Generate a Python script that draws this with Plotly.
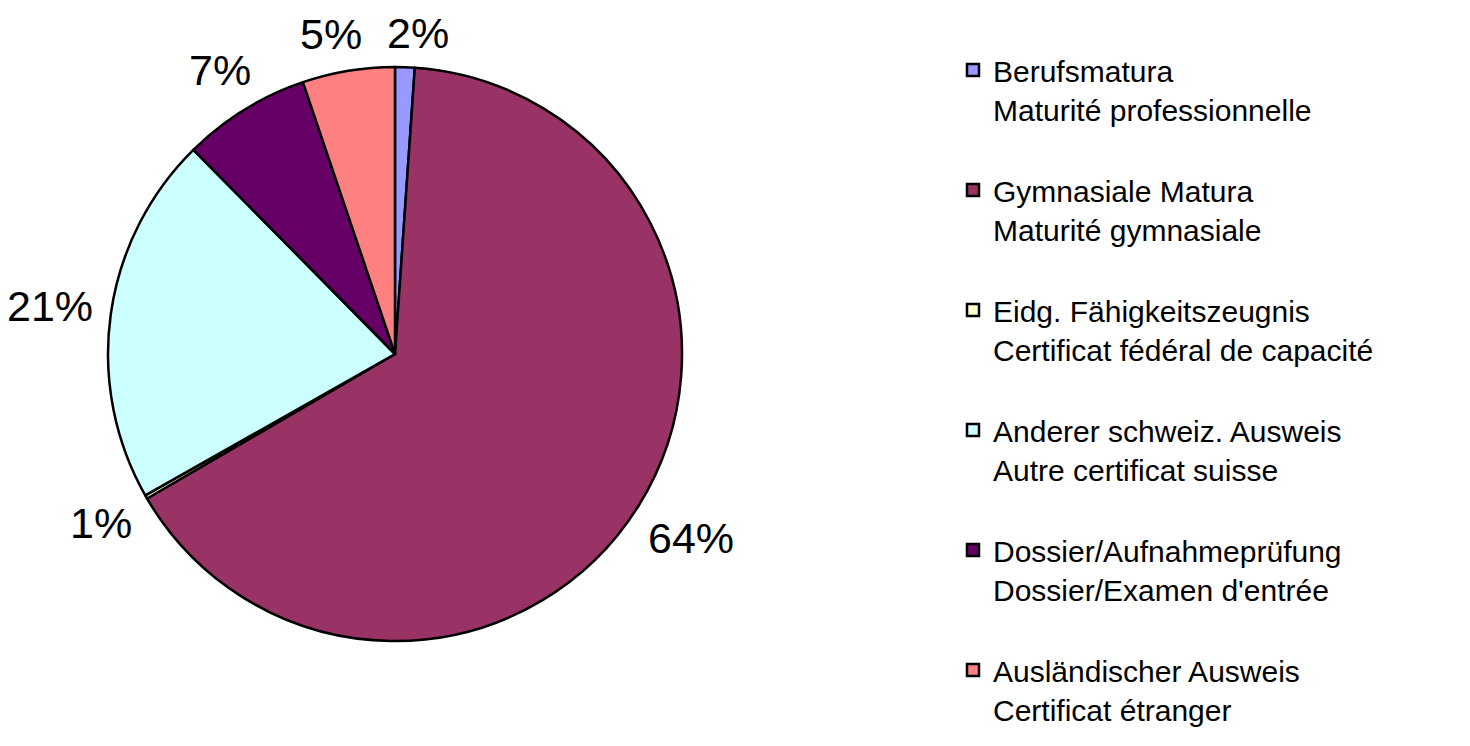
import math
import plotly.graph_objects as go

categories = [
    "Berufsmatura<br>Maturité professionnelle<br> ",
    "Gymnasiale Matura<br>Maturité gymnasiale<br> ",
    "Eidg. Fähigkeitszeugnis<br>Certificat fédéral de capacité<br> ",
    "Anderer schweiz. Ausweis<br>Autre certificat suisse<br> ",
    "Dossier/Aufnahmeprüfung<br>Dossier/Examen d'entrée<br> ",
    "Ausländischer Ausweis<br>Certificat étranger",
]
shares = [1.1, 65.5, 0.2, 20.8, 7.2, 5.2]
share_labels = ["2%", "64%", "1%", "21%", "7%", "5%"]
colors = ["#9999FF", "#993366", "#FFFFCC", "#CCFFFF", "#660066", "#FF8080"]

W, H = 1470, 746
cx, cy, r = 387, 346, 287
LABEL_SIZE = 43
FONT = "Liberation Sans, Arial, sans-serif"

fig = go.Figure(go.Pie(
    labels=categories,
    values=shares,
    textinfo="none",
    marker=dict(colors=colors, line=dict(color="black", width=2.5)),
    sort=False,
    direction="clockwise",
    rotation=0,
    hole=0,
    domain=dict(x=[(cx - r) / W, (cx + r) / W], y=[(H - cy - r) / H, (H - cy + r) / H]),
))

# percentage labels placed outside each slice, derived from the slice angles
total = sum(shares)
cum = 0.0
pos = []
for v, lab in zip(shares, share_labels):
    theta = math.radians((cum + v / 2) / total * 360.0)
    cum += v
    s, c = math.sin(theta), math.cos(theta)
    ndig = len(lab) - 1
    half_w = 0.5 * (ndig * 0.556 + 0.889) * LABEL_SIZE
    half_h = 0.37 * LABEL_SIZE
    dist = r + 17 + abs(s) * half_w + abs(c) * half_h
    pos.append([cx + dist * s, cy - dist * c, half_w, half_h])

# simple collision avoidance between neighbouring labels
MIN_GAP = 25
n = len(pos)
for i in range(n):
    a, b = pos[i], pos[(i + 1) % n]
    if abs(a[1] - b[1]) < a[3] + b[3]:
        left, right = (a, b) if a[0] < b[0] else (b, a)
        gap = (right[0] - right[2]) - (left[0] + left[2])
        if gap < MIN_GAP:
            shift = (MIN_GAP - gap) / 2
            left[0] -= shift
            right[0] += shift

annotations = []
for (px, py, _, _), lab in zip(pos, share_labels):
    annotations.append(dict(
        x=px / W, y=1 - py / H, xref="paper", yref="paper",
        text=lab, showarrow=False, xanchor="center", yanchor="middle",
        font=dict(family=FONT, size=LABEL_SIZE, color="black"),
    ))

fig.update_layout(
    width=W, height=H,
    margin=dict(l=0, r=0, t=0, b=0),
    paper_bgcolor="white",
    plot_bgcolor="white",
    font=dict(family=FONT, color="black"),
    annotations=annotations,
    legend=dict(
        x=945 / W, xanchor="left",
        y=1 - 36 / H, yanchor="top",
        font=dict(size=30, color="black"),
        valign="top",
        bgcolor="rgba(0,0,0,0)",
        tracegroupgap=0,
    ),
    showlegend=True,
)

fig.write_html("out.html")
